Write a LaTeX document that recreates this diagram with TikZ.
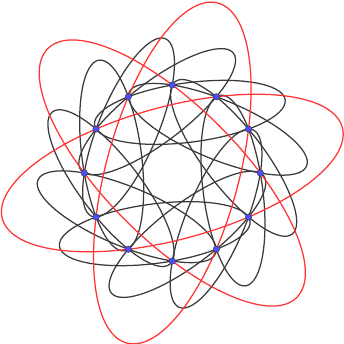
\documentclass[tikz,border=0pt]{standalone}
\usepackage{tikz}
\definecolor{ggblue}{HTML}{4D4DFF}
\definecolor{ggred}{HTML}{FF3333}
\definecolor{ggdark}{HTML}{3A3A3A}
\tikzset{
  conic/.style={draw=ggdark, line width=1.25pt},
  conicr/.style={draw=ggred, line width=1.25pt},
  vertex/.style={circle, fill=ggblue, draw=ggdark, line width=0.4pt, inner sep=0pt, minimum size=6.5pt},
}
\begin{document}
\begin{tikzpicture}[x=88pt, y=88pt]
\useasboundingbox (-1.958,-1.943) rectangle (1.951,1.966);
\foreach \i in {0,...,11}
  \draw[conic, rotate=30*\i, shift={(-0.1718,0.6966)}, rotate=37.5] (0,0) ellipse (1.0925 and 0.3376);
\foreach \i in {0,1,2}
  \draw[conicr, rotate=15+60*\i] (0,0) ellipse (2 and 0.756);
\foreach \i in {0,...,11}
  \node[vertex] (p\i) at (30*\i:1) {};
\end{tikzpicture}
\end{document}
